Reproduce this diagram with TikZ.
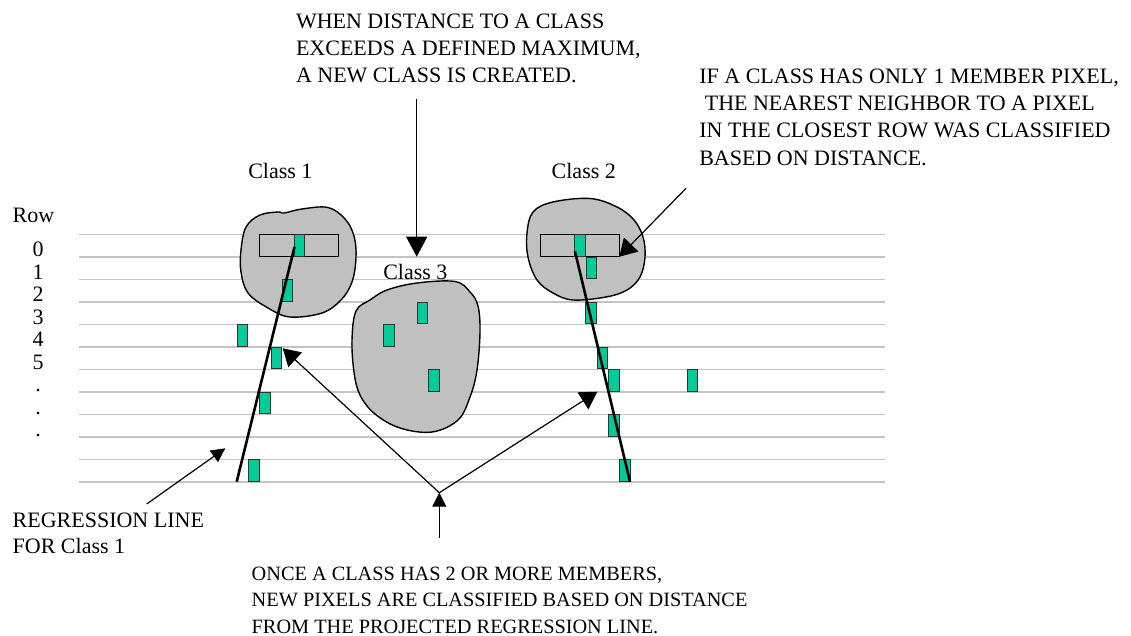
\documentclass[tikz,border=0pt]{standalone}
\usepackage{fontspec}
\setmainfont{Liberation Serif}
\usetikzlibrary{arrows.meta}
\definecolor{blobgray}{HTML}{C0C0C0}
\definecolor{pixgreen}{HTML}{00CC99}
\definecolor{rowgray}{HTML}{C4C4C4}
\begin{document}
\begin{tikzpicture}[x=1pt,y=-1pt,
  txt/.style={inner sep=0pt,outer sep=0pt,anchor=base west,align=left,font=\fontsize{22}{27}\selectfont},
  rowlab/.style={inner sep=0pt,outer sep=0pt,anchor=base,font=\fontsize{22}{27}\selectfont},
  rowline/.style={draw=rowgray,line width=1.5pt},
  blob/.style={draw=black,fill=blobgray,line width=1.4pt},
  seedbox/.style={draw=black,fill=blobgray,line width=1.1pt},
  pix/.style={draw=black!80,fill=pixgreen,line width=1pt,minimum width=10.5pt,minimum height=21.6pt,inner sep=0pt,outer sep=0pt},
  regline/.style={draw=black,line width=2.6pt},
  callout/.style={draw=black,line width=1.2pt},
  bighead/.style={-{Triangle[length=20pt,width=21pt]}},
  midhead/.style={-{Triangle[length=17pt,width=20pt]}},
  smallhead/.style={-{Triangle[length=14pt,width=14pt]}}
]
\useasboundingbox (0,0) rectangle (1131,636);

% row lines
\foreach \i in {0,...,11}{
  \draw[rowline] (79,{234.3+22.5*\i}) -- (885,{234.3+22.5*\i});
}

% row labels
\node[txt] (rowhdr) at (12.7,222.7) {Row};
\node[rowlab] (r0) at (38,256.7) {0};
\node[rowlab] (r1) at (38,279.2) {1};
\node[rowlab] (r2) at (38,301.7) {2};
\node[rowlab] (r3) at (38,324.2) {3};
\node[rowlab] (r4) at (38,346.7) {4};
\node[rowlab] (r5) at (38,369.2) {5};
\node[rowlab] (d1) at (38,391.7) {.};
\node[rowlab] (d2) at (38,414.2) {.};
\node[rowlab] (d3) at (38,436.7) {.};

% blobs
\draw[blob] plot[smooth cycle,tension=0.6] coordinates {
  (241,250) (246,227) (260,215) (278,212) (284,213) (302,209) (328,207.5)
  (345,219) (354,236) (356,258) (352,282) (341,300) (322,313) (290,317)
  (268,308) (248,293) (241,272)};
\draw[blob] plot[smooth cycle,tension=0.6] coordinates {
  (527,233) (533,212) (553,202) (590,198.5) (617,207) (634,220) (643,237)
  (645,257) (640,277) (627,290) (606,297) (573,300) (553,293) (537,280) (528,257)};
\draw[blob] plot[smooth cycle,tension=0.6] coordinates {
  (352,340) (356,311) (370,300) (387,290) (417,283) (455,281.5) (470,292)
  (478,306) (480,332) (477,370) (470,397) (458,420) (432,432) (400,428)
  (375,414) (360,395) (354,372)};

% seed boxes
\node[seedbox,minimum width=79pt,minimum height=22.4pt,inner sep=0pt] (box1) at (298.8,245.5) {};
\node[seedbox,minimum width=78.6pt,minimum height=22.4pt,inner sep=0pt] (box2) at (580,245.5) {};

% class labels
\node[txt] (c1) at (248.3,178.3) {Class 1};
\node[txt] (c2) at (551.7,178.3) {Class 2};
\node[txt] (c3) at (383.3,279.3) {Class 3};

% pixels class 1
\node[pix] (p1) at (299.3,245.5) {};
\node[pix] (p2) at (287.5,290.5) {};
\node[pix] (p3) at (242.5,335.5) {};
\node[pix] (p4) at (276.3,358) {};
\node[pix] (p5) at (265,403) {};
\node[pix] (p6) at (254,470.6) {};
% pixels class 3
\node[pix] (q1) at (422.5,313) {};
\node[pix] (q2) at (389,335.6) {};
\node[pix] (q3) at (433.8,380.6) {};
% pixels class 2
\node[pix] (s1) at (580,245.5) {};
\node[pix] (s2) at (591.5,268) {};
\node[pix] (s3) at (591.2,313) {};
\node[pix] (s4) at (602.5,358) {};
\node[pix] (s5) at (613.8,380.6) {};
\node[pix] (s6) at (692.5,380.6) {};
\node[pix] (s7) at (613.8,425.6) {};
\node[pix] (s8) at (625.2,470.6) {};

% regression lines
\coordinate (reg1top) at (294.5,247);
\coordinate (reg1bot) at (236.7,481.7);
\coordinate (reg2top) at (575,251.5);
\coordinate (reg2bot) at (630,481.7);
\draw[regline] (reg1top) -- (reg1bot);
\draw[regline] (reg2top) -- (reg2bot);

% texts (base anchor = baseline of the last line)
\node[txt] (ttop) at (296,82.3) {WHEN DISTANCE TO A CLASS\\EXCEEDS A DEFINED MAXIMUM,\\A NEW CLASS IS CREATED.};
\node[txt,font=\fontsize{22}{27.3}\selectfont] (tright) at (699.3,165.2) {IF A CLASS HAS ONLY 1 MEMBER PIXEL,\\\hspace*{5.5pt}THE NEAREST NEIGHBOR TO A PIXEL\\IN THE CLOSEST ROW WAS CLASSIFIED\\BASED ON DISTANCE.};
\node[txt,font=\fontsize{22}{26}\selectfont] (tleft) at (12.7,553.3) {REGRESSION LINE\\FOR Class 1};
\node[txt,font=\fontsize{20.3}{26.7}\selectfont] (tbot) at (251.7,633.4) {ONCE A CLASS HAS 2 OR MORE MEMBERS,\\NEW PIXELS ARE CLASSIFIED BASED ON DISTANCE\\FROM THE PROJECTED REGRESSION LINE.};

% callout arrows
\coordinate (downstart) at (416.7,99.3);
\coordinate (downtip) at (416.7,256.7);
\draw[callout,bighead] (downstart) -- (downtip);

\coordinate (c2start) at (686,188.3);
\coordinate (c2tip) at (619.3,256.7);
\draw[callout,midhead] (c2start) -- (c2tip);

\coordinate (regstart) at (146.7,504);
\coordinate (regtip) at (225.3,448.3);
\draw[callout,smallhead] (regstart) -- (regtip);

\coordinate (apex) at (439.3,492.7);
\coordinate (upstart) at (439.3,538.3);
\coordinate (tipleft) at (282.7,348.3);
\coordinate (tipright) at (597.3,391.7);
\draw[callout,smallhead] (upstart) -- (apex);
\draw[callout,midhead] (apex) -- (tipleft);
\draw[callout,midhead] (apex) -- (tipright);
\end{tikzpicture}
\end{document}
